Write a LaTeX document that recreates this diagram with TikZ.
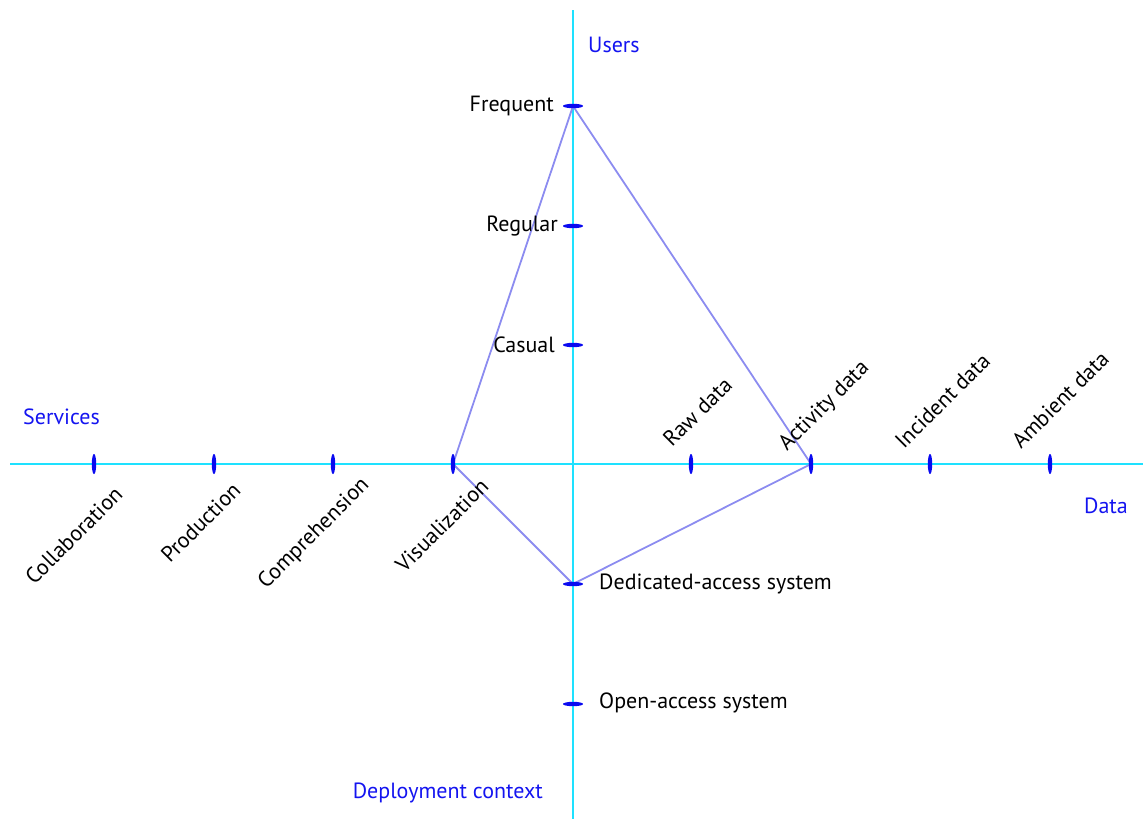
\documentclass[tikz,border=0pt]{standalone}
\usepackage{fontspec}
\setmainfont{PT Sans}
\definecolor{axiscol}{RGB}{30,225,255}
\definecolor{tickcol}{RGB}{10,10,240}
\definecolor{linkcol}{RGB}{140,140,240}
\definecolor{titlecol}{RGB}{20,20,240}
\begin{document}
\begin{tikzpicture}[x=1pt,y=-1pt,
  axisline/.style={draw=axiscol,line width=1.6pt},
  htick/.style={fill=tickcol,draw=none},
  link/.style={draw=linkcol,line width=1.8pt,line join=round},
  lbl/.style={font=\fontsize{22}{26}\selectfont,text=black,inner sep=0pt},
  ttl/.style={font=\fontsize{22}{26}\selectfont,text=titlecol,inner sep=0pt},
  lowlbl/.style={lbl,rotate=45,anchor=base east},
  uplbl/.style={lbl,rotate=45,anchor=base west}]
\useasboundingbox (0,0) rectangle (1143,819);
% axis ends
\coordinate (vtop) at (573,10);
\coordinate (vbot) at (573,819);
\coordinate (hleft) at (10,464);
\coordinate (hright) at (1143,464);
\draw[axisline] (vtop) -- (vbot);
\draw[axisline] (hleft) -- (hright);
% tick positions
\coordinate (freq) at (573,106);
\coordinate (reg) at (573,226);
\coordinate (cas) at (573,345);
\coordinate (ded) at (573,584);
\coordinate (open) at (573,704);
\coordinate (coll) at (94,464);
\coordinate (prod) at (214,464);
\coordinate (comp) at (333,464);
\coordinate (vis) at (453,464);
\coordinate (raw) at (691,464);
\coordinate (act) at (811,464);
\coordinate (inc) at (930,464);
\coordinate (amb) at (1050,464);
% connectors
\draw[link] (freq) -- (vis) -- (ded) -- (act) -- cycle;
% ticks
\foreach \t in {freq,reg,cas,ded,open}
  \fill[htick] (\t) ellipse [x radius=10, y radius=2.2];
\foreach \t in {coll,prod,comp,vis,raw,act,inc,amb}
  \fill[htick] (\t) ellipse [x radius=2.2, y radius=10];
% axis titles
\node[ttl,anchor=west] (tusers) at (588,45) {Users};
\node[ttl,anchor=west] (tserv) at (23,417) {Services};
\node[ttl,anchor=east] (tdata) at (1128,506) {Data};
\node[ttl,anchor=east] (tdep) at (543,793) {Deployment context};
% vertical axis labels
\node[lbl,anchor=east] (lfreq) at (554,106) {Frequent};
\node[lbl,anchor=east] (lreg) at (558,226) {Regular};
\node[lbl,anchor=east] (lcas) at (555,345) {Casual};
\node[lbl,anchor=west] (lded) at (599,584) {Dedicated-access system};
\node[lbl,anchor=west] (lopen) at (599,703) {Open-access system};
% horizontal axis labels
\node[lowlbl] (lcoll) at (124,496) {Collaboration};
\node[lowlbl] (lprod) at (242,492) {Production};
\node[lowlbl] (lcomp) at (370,486) {Comprehension};
\node[lowlbl] (lvis) at (490,488) {Visualization};
\node[uplbl] (lraw) at (672,448) {Raw data};
\node[uplbl] (lact) at (787,452) {Activity data};
\node[uplbl] (linc) at (904,450) {Incident data};
\node[uplbl] (lamb) at (1021,450) {Ambient data};
\end{tikzpicture}
\end{document}
